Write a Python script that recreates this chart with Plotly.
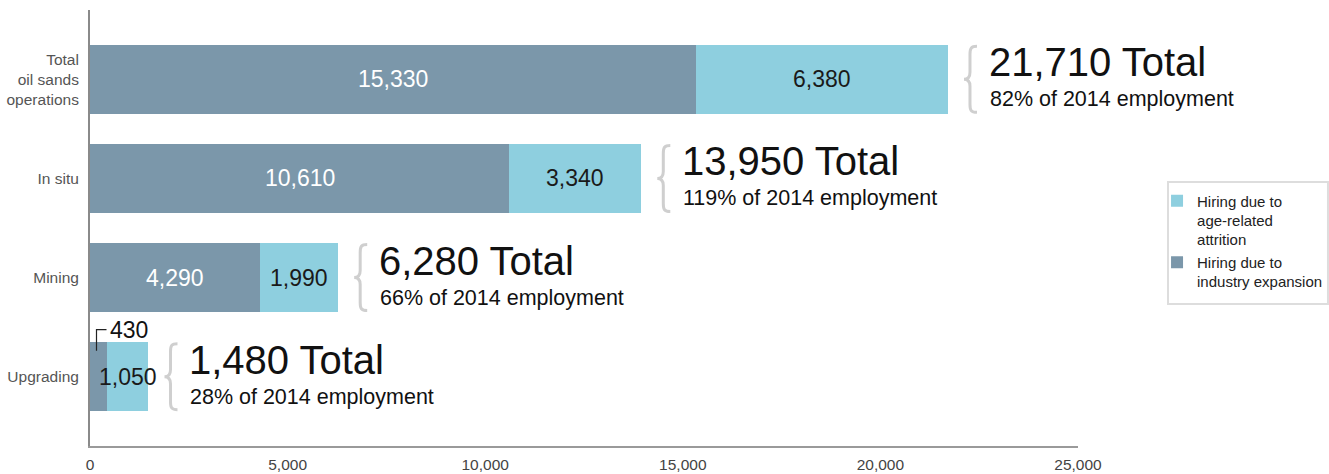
import plotly.graph_objects as go

# Hiring requirements by sector
categories = ["Total<br>oil sands<br>operations", "In situ", "Mining", "Upgrading"]
expansion = [15330, 10610, 4290, 430]
attrition = [6380, 3340, 1990, 1050]
totals = [21710, 13950, 6280, 1480]
share_of_2014 = ["82%", "119%", "66%", "28%"]

x_ticks = [0, 5000, 10000, 15000, 20000, 25000]

DARK = "#7b97aa"
LIGHT = "#8ecfdf"
FONT = "Liberation Sans, Arial, sans-serif"

pos = list(range(len(categories)))

fig = go.Figure()
fig.add_trace(go.Bar(
    y=pos, x=expansion, base=0, orientation="h", width=0.7,
    marker=dict(color=DARK, line=dict(width=0)),
    name="Hiring due to<br>industry expansion", hoverinfo="x",
))
fig.add_trace(go.Bar(
    y=pos, x=attrition, base=expansion, orientation="h", width=0.7,
    marker=dict(color=LIGHT, line=dict(width=0)),
    name="Hiring due to<br>age-related<br>attrition", hoverinfo="x",
))

annotations = []
shapes = []

for i, (e, a, t, s) in enumerate(zip(expansion, attrition, totals, share_of_2014)):
    # segment value labels
    if e >= 2000:
        annotations.append(dict(
            x=e / 2, y=i, text=f"{e:,}", showarrow=False,
            font=dict(size=23, color="white", family=FONT),
        ))
    else:
        # small segment: label above the bar with an elbow leader
        annotations.append(dict(
            x=e / 2, y=i, text=f"{e:,}", showarrow=False,
            xanchor="left", yanchor="middle", xshift=9, yshift=47,
            font=dict(size=23, color="#111111", family=FONT),
        ))
        shapes.append(dict(
            type="path", xref="x", yref="y",
            xsizemode="pixel", ysizemode="pixel",
            xanchor=e / 2, yanchor=i,
            path="M -2,26 L -2,47 L 8,47",
            line=dict(color="#222222", width=1.2),
        ))
    annotations.append(dict(
        x=e + a / 2, y=i, text=f"{a:,}", showarrow=False,
        font=dict(size=23, color="#1a1a1a", family=FONT),
    ))

    # curly brace after each bar
    shapes.append(dict(
        type="path", xref="x", yref="y",
        xsizemode="pixel", ysizemode="pixel",
        xanchor=t, yanchor=i,
        path=("M 29,-33 C 23,-33 22,-31 22,-25 L 22,-7 "
              "C 22,-2 20,0 16,0 C 20,0 22,2 22,7 L 22,25 "
              "C 22,31 23,33 29,33"),
        line=dict(color="#cfcfcf", width=3),
    ))

    # total and share text
    annotations.append(dict(
        x=t, y=i, text=f"{t:,} Total", showarrow=False,
        xanchor="left", yanchor="middle", xshift=39, yshift=17,
        font=dict(size=40, color="#111111", family=FONT),
    ))
    annotations.append(dict(
        x=t, y=i, text=f"{s} of 2014 employment", showarrow=False,
        xanchor="left", yanchor="middle", xshift=40, yshift=-20,
        font=dict(size=21.5, color="#111111", family=FONT),
    ))

# frame around the legend
shapes.append(dict(
    type="rect", xref="paper", yref="paper",
    x0=1.0911, x1=1.2530, y0=0.3257, y1=0.6055,
    line=dict(color="#dddddd", width=2), fillcolor="rgba(0,0,0,0)",
    layer="below",
))

fig.update_layout(
    width=1329, height=474,
    margin=dict(l=90, r=251, t=10, b=28, autoexpand=False),
    paper_bgcolor="white", plot_bgcolor="white",
    barmode="overlay", bargap=0,
    font=dict(family=FONT, color="#444444"),
    showlegend=True,
    legend=dict(
        x=1.080, y=0.600, xanchor="left", yanchor="top",
        traceorder="reversed", valign="top",
        bgcolor="rgba(0,0,0,0)", borderwidth=0,
        font=dict(size=15, color="#222222", family=FONT),
        itemwidth=30,
    ),
    annotations=annotations,
    shapes=shapes,
)

fig.update_xaxes(
    range=[0, 25000], tickvals=x_ticks, tickformat=",",
    showgrid=False, zeroline=False,
    showline=True, linecolor="#9a9a9a", linewidth=2,
    ticks="", ticklabelstandoff=3,
    tickfont=dict(size=15.5, color="#444444", family=FONT),
)
fig.update_yaxes(
    range=[3.7, -0.7], tickvals=pos, ticktext=categories,
    showgrid=False, zeroline=False,
    showline=True, linecolor="#8a8a8a", linewidth=2,
    ticks="", ticklabelstandoff=6,
    tickfont=dict(size=15.5, color="#555555", family=FONT),
)

fig.write_html("out.html")
